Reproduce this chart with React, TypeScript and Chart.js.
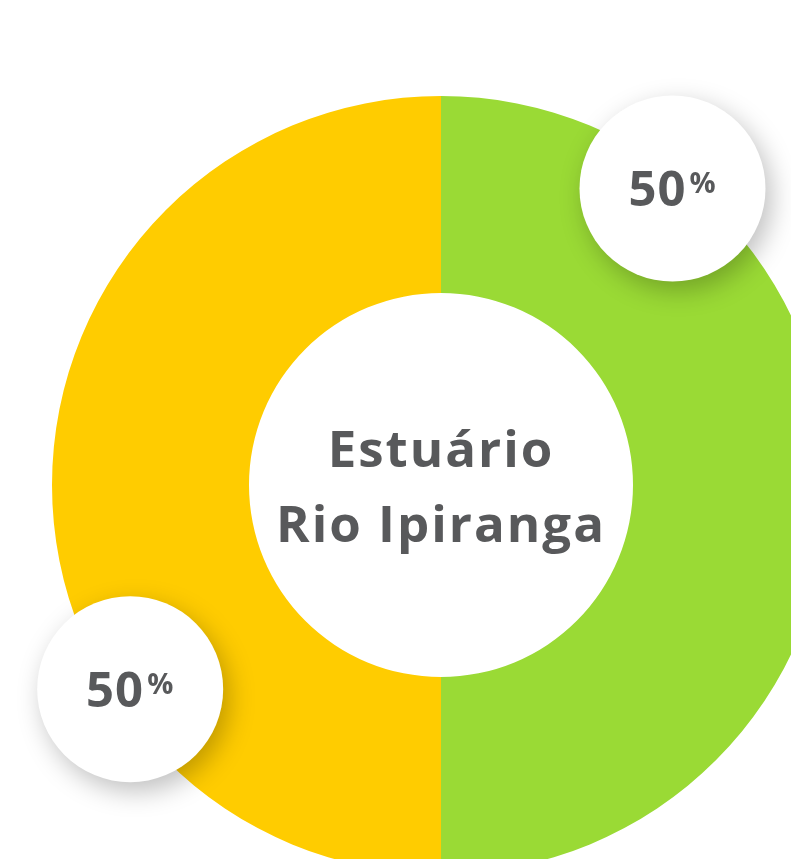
import React, { useEffect, useRef } from "react";
import { Chart, registerables } from "chart.js";

Chart.register(...registerables);

const categories = ["Verde", "Amarelo"];
const values = [50, 50];
const colors = ["#9ADA35", "#FFCC00"];
const centerLines = ["Estuário", "Rio Ipiranga"];

const TEXT_COLOR = "#58595B";
const FONT = '"Open Sans", "DejaVu Sans", sans-serif';

// where each label bubble sits along its arc (fraction of arc) and radius factor
const labelArcFraction = [0.211, 0.315];
const labelRadiusFactor = [0.967, 0.956];
const BUBBLE_R = 93;

const labelsPlugin = {
  id: "bubbleLabels",
  afterDraw(chart: any) {
    const ctx = chart.ctx as any;
    const meta = chart.getDatasetMeta(0);
    const data = chart.data.datasets[0].data as number[];
    const total = data.reduce((a, b) => a + b, 0);
    let cx = 0;
    let cy = 0;
    meta.data.forEach((arc: any, i: number) => {
      const p = arc.getProps(["x", "y", "startAngle", "endAngle", "outerRadius"], true);
      cx = p.x;
      cy = p.y;
      const ang = p.startAngle + labelArcFraction[i] * (p.endAngle - p.startAngle);
      const r = p.outerRadius * labelRadiusFactor[i];
      const bx = p.x + Math.cos(ang) * r;
      const by = p.y + Math.sin(ang) * r;
      ctx.save();
      ctx.shadowColor = "rgba(0,0,0,0.25)";
      ctx.shadowBlur = 26;
      ctx.shadowOffsetX = 6;
      ctx.shadowOffsetY = 9;
      ctx.beginPath();
      ctx.arc(bx, by, BUBBLE_R, 0, Math.PI * 2);
      ctx.fillStyle = "#ffffff";
      ctx.fill();
      ctx.restore();

      const pct = String(Math.round((data[i] / total) * 100));
      ctx.save();
      ctx.fillStyle = TEXT_COLOR;
      ctx.textBaseline = "alphabetic";
      ctx.textAlign = "left";
      ctx.letterSpacing = "1px";
      ctx.font = `700 49px ${FONT}`;
      const w1 = ctx.measureText(pct).width;
      ctx.font = `700 29px ${FONT}`;
      const w2 = ctx.measureText("%").width;
      const gap = 3;
      const start = bx - (w1 + gap + w2) / 2;
      ctx.font = `700 49px ${FONT}`;
      ctx.fillText(pct, start, by + 18);
      ctx.font = `700 29px ${FONT}`;
      ctx.fillText("%", start + w1 + gap, by + 5);
      ctx.restore();
    });

    ctx.save();
    ctx.fillStyle = TEXT_COLOR;
    ctx.textAlign = "center";
    ctx.textBaseline = "alphabetic";
    ctx.letterSpacing = "2px";
    ctx.font = `700 51px ${FONT}`;
    ctx.fillText(centerLines[0], cx, cy - 18);
    ctx.fillText(centerLines[1], cx, cy + 57);
    ctx.restore();
  },
};

export default function App() {
  const ref = useRef<HTMLCanvasElement | null>(null);
  useEffect(() => {
    if (!ref.current) return;
    const chart = new Chart(ref.current, {
      type: "doughnut",
      data: {
        labels: categories,
        datasets: [
          {
            data: values,
            backgroundColor: colors,
            borderWidth: 0,
            hoverOffset: 0,
          },
        ],
      },
      options: {
        responsive: false,
        animation: false,
        events: [],
        cutout: 192,
        layout: { padding: { left: 52, right: 52, top: 96, bottom: 96 } },
        plugins: {
          legend: { display: false },
          tooltip: { enabled: false },
        },
      },
      plugins: [labelsPlugin],
    });
    return () => chart.destroy();
  }, []);
  return (
    <div
      style={{
        position: "fixed",
        left: 0,
        top: 0,
        width: 791,
        height: 859,
        overflow: "hidden",
        background: "#ffffff",
      }}
    >
      <canvas ref={ref} width={882} height={970} style={{ display: "block" }} />
    </div>
  );
}
